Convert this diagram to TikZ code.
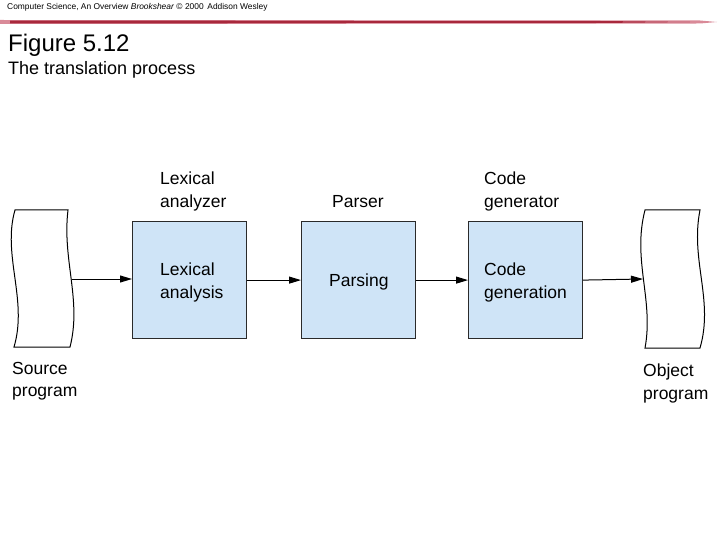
\documentclass[tikz,border=0pt]{standalone}
\usepackage{fontspec}
\setmainfont{Liberation Sans}
\usetikzlibrary{arrows.meta}
\definecolor{boxfill}{HTML}{CFE4F7}
\definecolor{boxline}{HTML}{2A2A2A}
\definecolor{rulered}{HTML}{A8283C}
\definecolor{rulelight}{HTML}{D98A98}
\tikzset{
  stagebox/.style={draw=boxline, line width=1.2pt, fill=boxfill, minimum width=114pt, minimum height=117pt, inner sep=0pt},
  lbl/.style={anchor=north west, inner sep=0pt, align=left, font=\fontsize{17.5}{22.5}\selectfont},
  doc/.style={draw=black, line width=1pt},
  flow/.style={draw=black, line width=1pt, -{Triangle[length=12pt,width=7pt]}}
}
\begin{document}
\begin{tikzpicture}[x=1pt,y=-1pt]
\useasboundingbox (0,0) rectangle (720,540);
% header
\node[anchor=west, inner sep=0pt, font=\fontsize{8.4}{10}\selectfont] (hdr) at (7,7) {Computer Science, An Overview \textit{Brookshear} © 2000\, Addison Wesley};
\fill[rulelight] (0,20) -- (700,20.5) -- (717,22) -- (700,23.5) -- (0,24) -- cycle;
\fill[rulered] (10,20.6) -- (600,21) -- (690,22) -- (600,23) -- (10,23.4) -- cycle;
\node[anchor=west, inner sep=0pt, font=\fontsize{24}{27}\selectfont] (title) at (8,45) {Figure 5.12};
\node[anchor=west, inner sep=0pt, font=\fontsize{18}{20}\selectfont] (sub) at (8,70) {The translation process};
% boxes
\node[stagebox, anchor=north west] (b1) at (132,221) {};
\node[stagebox, anchor=north west] (b2) at (301,221) {};
\node[stagebox, anchor=north west] (b3) at (468,221) {};
% box texts
\node[lbl] (t1) at (160,263) {Lexical\\analysis};
\node[lbl] (t2) at (329,274) {Parsing};
\node[lbl] (t3) at (484,263) {Code\\generation};
% captions above
\node[lbl] (c1) at (160,172) {Lexical\\analyzer};
\node[lbl] (c2) at (332,195) {Parser};
\node[lbl] (c3) at (484,172) {Code\\generator};
% documents
\draw[doc] (15,210) -- (68,210) .. controls (62,260) and (82,300) .. (70,347)
  -- (14,347) .. controls (28,300) and (2,255) .. (15,210) -- cycle;
\draw[doc] (645,210) -- (700,210) .. controls (690,260) and (714,300) .. (700,348)
  -- (645,348) .. controls (654,300) and (632,260) .. (645,210) -- cycle;
\coordinate (srcout) at (72,279);
\coordinate (objin) at (643,279);
\node[lbl] (s) at (12,362) {Source\\program};
\node[lbl] (o) at (643,364) {Object\\program};
% arrows
\draw[flow] (srcout) -- (srcout -| b1.west);
\draw[flow] (b1.east) -- (b2.west);
\draw[flow] (b2.east) -- (b3.west);
\draw[flow] (b3.east) -- (objin);
\end{tikzpicture}
\end{document}
